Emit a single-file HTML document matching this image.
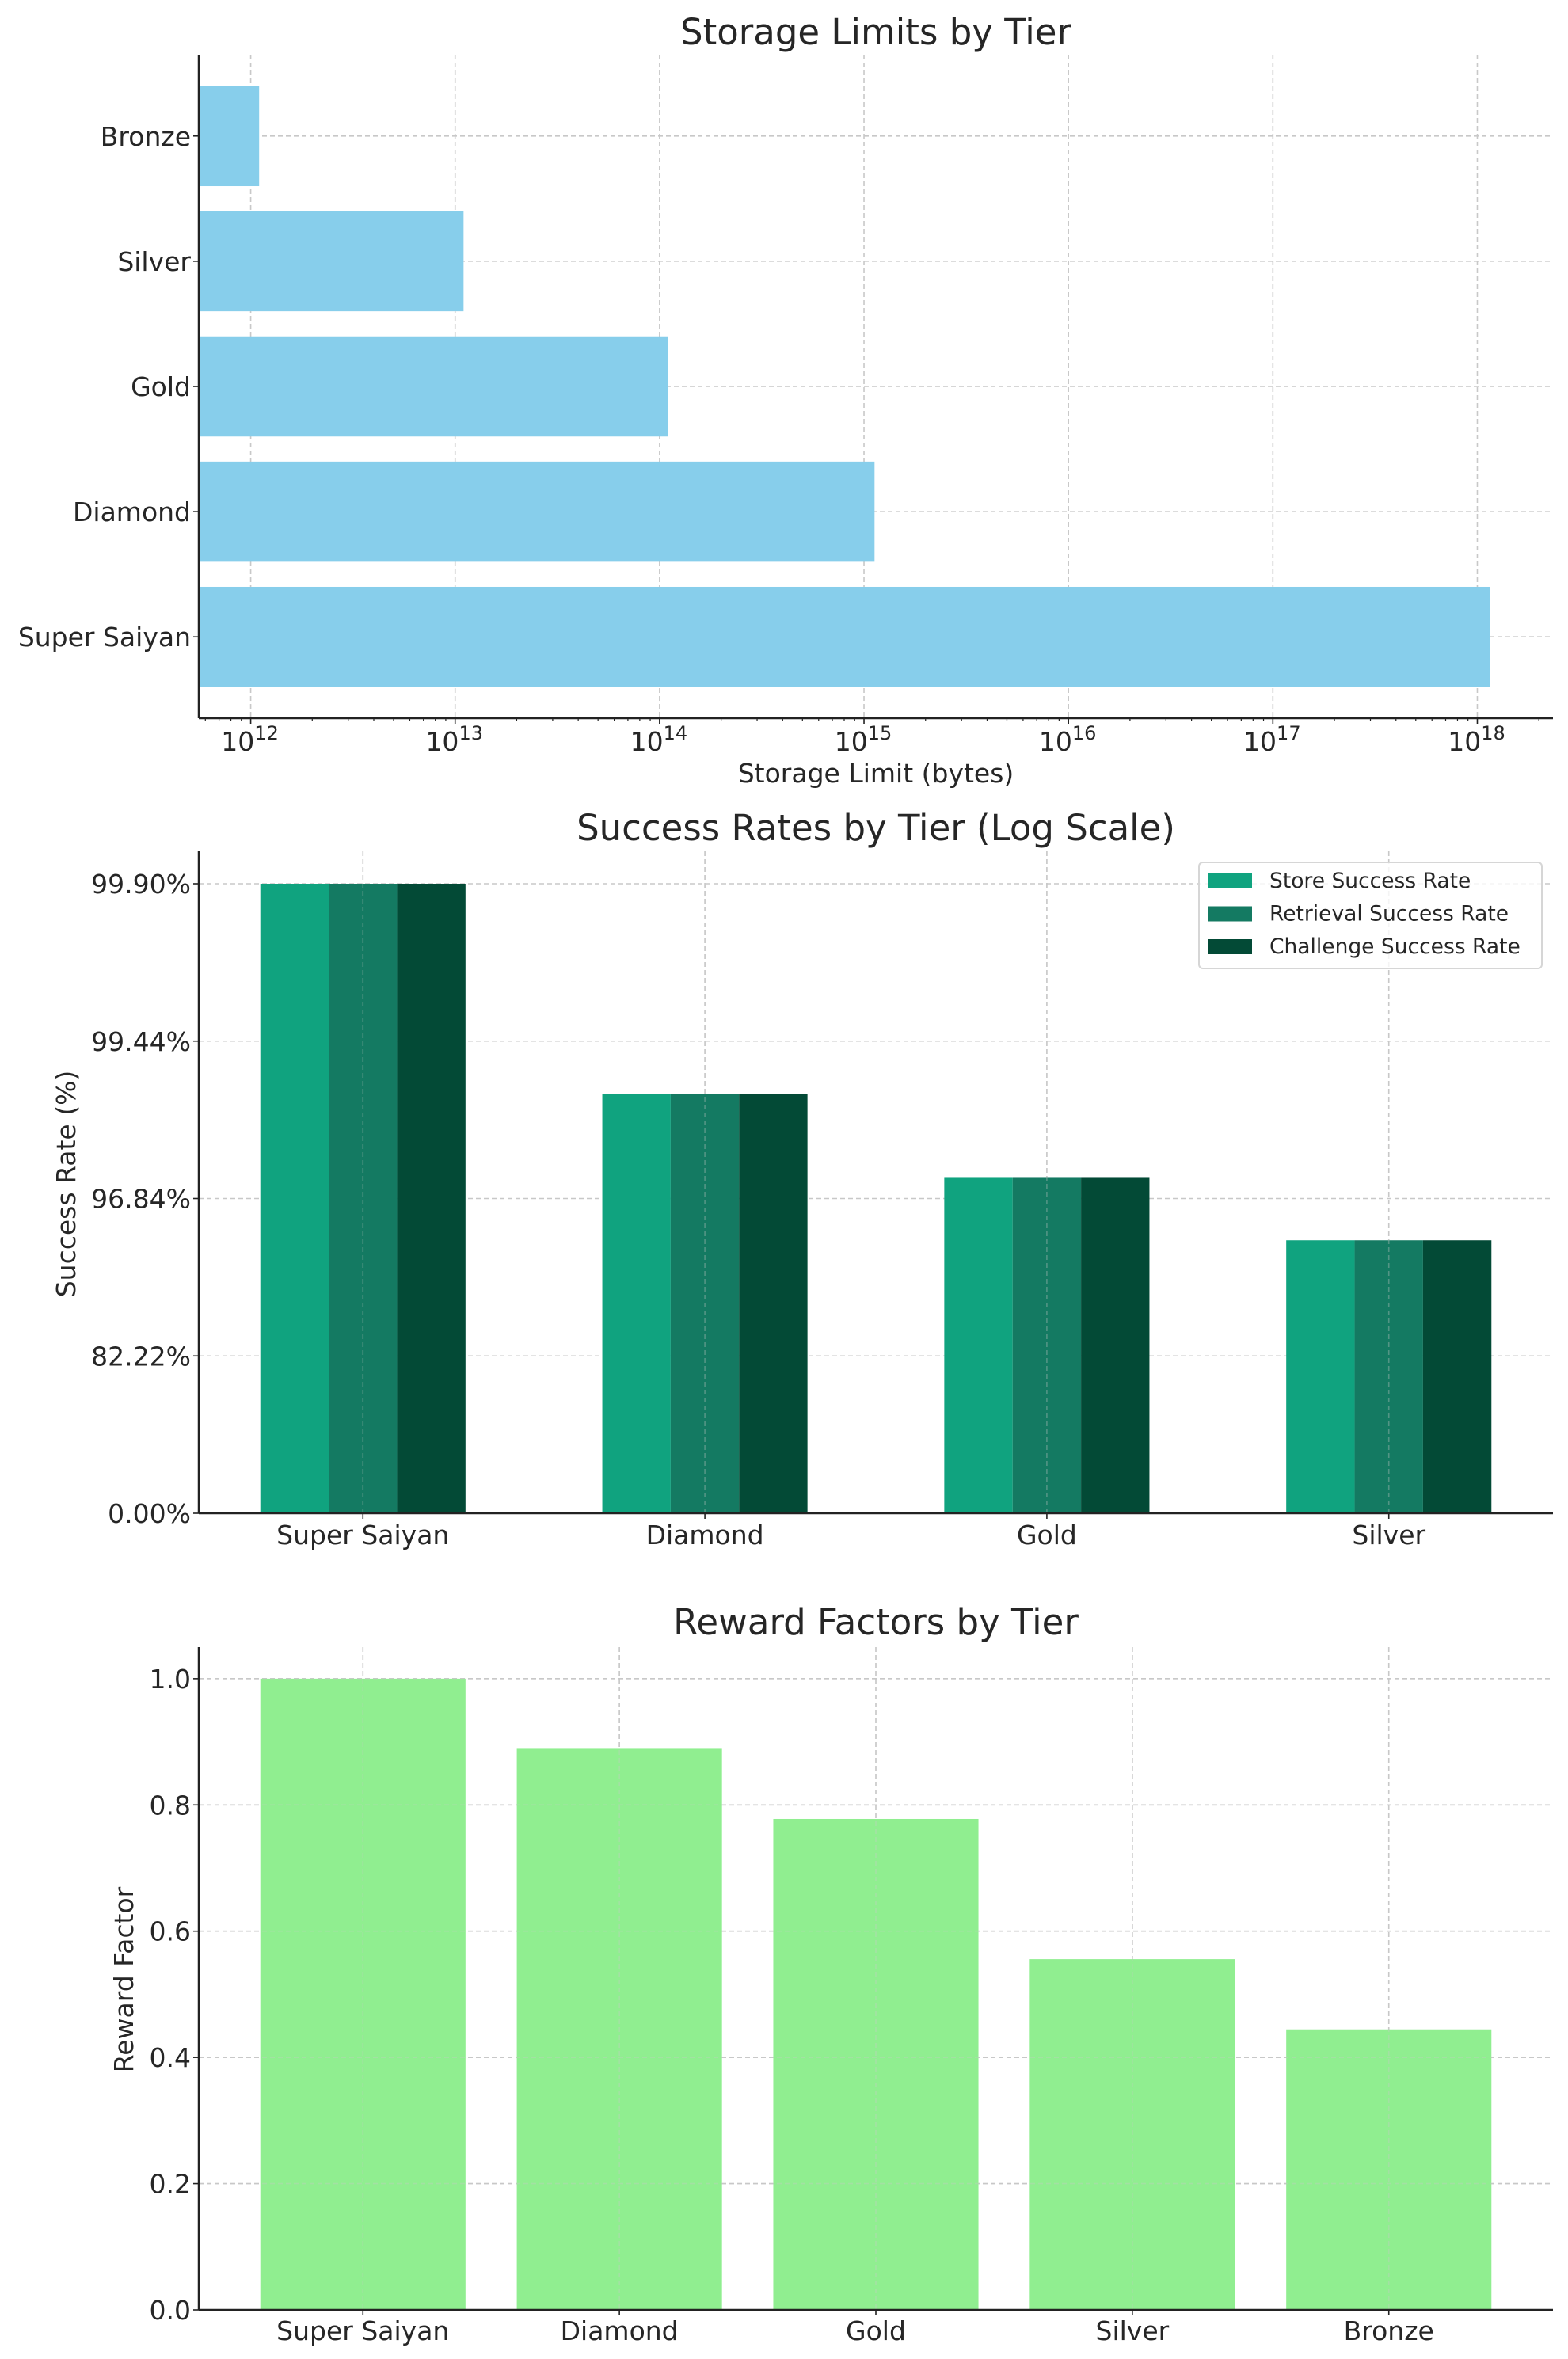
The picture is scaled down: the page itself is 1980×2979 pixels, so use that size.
<!DOCTYPE html>
<html><head><meta charset="utf-8"><style>
html,body{margin:0;padding:0;background:#fff;}
svg{display:block;font-family:"DejaVu Sans","Liberation Sans",sans-serif;}
</style></head><body>
<svg id="fig" width="1980" height="2979" viewBox="0 0 1980 2979" xmlns="http://www.w3.org/2000/svg"></svg>
<script>
// ---------- Chart 1 data ----------
const storageTiers = ["Super Saiyan", "Diamond", "Gold", "Silver", "Bronze"];
const storageBytes = [1.1529e18, 1.1259e15, 1.0995e14, 1.0995e13, 1.0995e12];
const storageTickExps = [12, 13, 14, 15, 16, 17, 18];
// ---------- Chart 2 data ----------
const successTiers = ["Super Saiyan", "Diamond", "Gold", "Silver"];
const storeRates = [99.9, 99.0, 97.5, 95.0];
const retrievalRates = [99.9, 99.0, 97.5, 95.0];
const challengeRates = [99.9, 99.0, 97.5, 95.0];
const successSeriesNames = ["Store Success Rate", "Retrieval Success Rate", "Challenge Success Rate"];
const successTickLabels = ["0.00%", "82.22%", "96.84%", "99.44%", "99.90%"];
// ---------- Chart 3 data ----------
const rewardTiers = ["Super Saiyan", "Diamond", "Gold", "Silver", "Bronze"];
const rewardValues = [1.0, 0.8889, 0.7778, 0.5556, 0.4444];
const rewardTicks = [0.0, 0.2, 0.4, 0.6, 0.8, 1.0];

const NS = "http://www.w3.org/2000/svg";
const svg = document.getElementById("fig");
const TXT = "#262626";
const GRID = "#c8c8c8";
const FS = 33, TFS = 45;
function mk(tag, attrs, parent) {
  const e = document.createElementNS(NS, tag);
  for (const k in attrs) e.setAttribute(k, attrs[k]);
  (parent || svg).appendChild(e);
  return e;
}
function txt(s, x, y, size, anchor, parent, extra) {
  const t = mk("text", Object.assign({x: x, y: y, "font-size": size, "text-anchor": anchor || "middle", fill: TXT}, extra || {}), parent);
  t.textContent = s;
  return t;
}
function gridLine(x1, y1, x2, y2, g) {
  return mk("line", {x1: x1, y1: y1, x2: x2, y2: y2, stroke: GRID, "stroke-width": 1.6, "stroke-dasharray": "6,4"}, g);
}
const L = 251, R = 1961;

// ================= Chart 1 =================
(function () {
  const g = mk("g", {});
  
  
  const top = 69, bot = 907;
  const xmin = 11.746, xmax = 18.37;
  const xs = v => L + (Math.log10(v) - xmin) / (xmax - xmin) * (R - L);
  const ymin = -0.65, ymax = 4.65;
  const ys = i => bot - (i - ymin) / (ymax - ymin) * (bot - top);
  const t = txt("Storage Limits by Tier", 1106, 56, TFS, "middle", g);
  
  
  storageTickExps.forEach(e => { const x = xs(Math.pow(10, e)); gridLine(x, top, x, bot, g); });
  storageTiers.forEach((c, i) => { const y = ys(i); gridLine(L, y, R, y, g); });
  storageTiers.forEach((c, i) => {
    const b = mk("rect", {x: L, y: ys(i) - (ys(0) - ys(0.4)), width: xs(storageBytes[i]) - L, height: 2 * (ys(0) - ys(0.4)), fill: "#87ceeb"}, g);
    
    
  });
  mk("line", {x1: L, y1: top, x2: L, y2: bot, stroke: "#222", "stroke-width": 2.5}, g);
  mk("line", {x1: L, y1: bot, x2: R, y2: bot, stroke: "#222", "stroke-width": 2.5}, g);
  storageTiers.forEach((c, i) => {
    const y = ys(i);
    mk("line", {x1: L - 7, y1: y, x2: L, y2: y, stroke: "#222", "stroke-width": 1.6}, g);
    const l = txt(c, 241, y + 12, FS, "end", g);
    
    
  });
  for (let e = 11; e <= 18; e++) {
    for (let m = 2; m <= 9; m++) {
      const v = m * Math.pow(10, e);
      const lv = Math.log10(v);
      if (lv < xmin || lv > xmax) continue;
      const x = xs(v);
      mk("line", {x1: x, y1: bot, x2: x, y2: bot + 4, stroke: "#222", "stroke-width": 1.2}, g);
    }
  }
  storageTickExps.forEach(e => {
    const x = xs(Math.pow(10, e));
    mk("line", {x1: x, y1: bot, x2: x, y2: bot + 7, stroke: "#222", "stroke-width": 1.6}, g);
    const tx = mk("text", {x: x - 1, y: 948, "font-size": FS, "text-anchor": "middle", fill: TXT}, g);
    
    
    const a = mk("tspan", {}, tx); a.textContent = "10";
    const b = mk("tspan", {dy: -14, "font-size": 24}, tx); b.textContent = String(e);
  });
  const xl = txt("Storage Limit (bytes)", 1106, 988, FS, "middle", g);
  
  
})();

// ================= Chart 2 =================
(function () {
  const g = mk("g", {});
  
  
  const top = 1075, bot = 1911;
  const tf = p => -Math.log10(1 - p / 100);
  const ymax = 3 * (bot - top) / (bot - 1116);
  const ys = p => bot - tf(p) / ymax * (bot - top);
  const yt = k => bot - k / ymax * (bot - top);
  const xmin = -0.48, xmax = 3.48;
  const xs = v => L + (v - xmin) / (xmax - xmin) * (R - L);
  const t = txt("Success Rates by Tier (Log Scale)", 1106, 1061, TFS, "middle", g);
  
  
  successTiers.forEach((c, i) => gridLine(xs(i), top, xs(i), bot, g));
  successTickLabels.forEach((s, k) => gridLine(L, yt(k * 0.75), R, yt(k * 0.75), g));
  const series = [storeRates, retrievalRates, challengeRates];
  const colors = ["#10a37f", "#147a62", "#034a36"];
  const w = 0.2;
  series.forEach((vals, s) => {
    successTiers.forEach((c, i) => {
      const x0 = xs(i + (s - 1) * w - w / 2), x1 = xs(i + (s - 1) * w + w / 2);
      const b = mk("rect", {x: x0, y: ys(vals[i]), width: x1 - x0, height: bot - ys(vals[i]), fill: colors[s]}, g);
      
      
    });
  });
  successTiers.forEach((c, i) => {
    const gl = gridLine(xs(i), top, xs(i), bot, g);
    gl.setAttribute("stroke-opacity", "0.35");
  });
  mk("line", {x1: L, y1: top, x2: L, y2: bot, stroke: "#222", "stroke-width": 2.5}, g);
  mk("line", {x1: L, y1: bot, x2: R, y2: bot, stroke: "#222", "stroke-width": 2.5}, g);
  successTickLabels.forEach((s, k) => {
    const y = yt(k * 0.75);
    mk("line", {x1: L - 7, y1: y, x2: L, y2: y, stroke: "#222", "stroke-width": 1.6}, g);
    const l = txt(s, 241, y + 12, FS, "end", g);
    
    
  });
  successTiers.forEach((c, i) => {
    mk("line", {x1: xs(i), y1: bot, x2: xs(i), y2: bot + 7, stroke: "#222", "stroke-width": 1.6}, g);
    const l = txt(c, xs(i), 1950, FS, "middle", g);
    
    
  });
  const yl = txt("Success Rate (%)", 0, 0, FS, "middle", g, {transform: "translate(95,1495) rotate(-90)"});
  
  
  const lg = mk("g", {}, g);
  
  
  mk("rect", {x: 1514, y: 1089, width: 433, height: 134, rx: 5, fill: "#fff", "fill-opacity": 0.8, stroke: "#d6d6d6", "stroke-width": 2}, lg);
  successSeriesNames.forEach((n, s) => {
    const y = 1103 + s * 41.5;
    mk("rect", {x: 1525, y: y, width: 56, height: 19, fill: colors[s]}, lg);
    const l = txt(n, 1603, y + 18, 26.5, "start", lg);
    
    
  });
})();

// ================= Chart 3 =================
(function () {
  const g = mk("g", {});
  
  
  const top = 2080, bot = 2917;
  const ymax = 1.05;
  const ys = v => bot - v / ymax * (bot - top);
  const xmin = -0.64, xmax = 4.64;
  const xs = v => L + (v - xmin) / (xmax - xmin) * (R - L);
  const t = txt("Reward Factors by Tier", 1106, 2064, TFS, "middle", g);
  
  
  rewardTiers.forEach((c, i) => gridLine(xs(i), top, xs(i), bot, g));
  rewardTicks.forEach(v => gridLine(L, ys(v), R, ys(v), g));
  rewardTiers.forEach((c, i) => {
    const x0 = xs(i - 0.4), x1 = xs(i + 0.4);
    const b = mk("rect", {x: x0, y: ys(rewardValues[i]), width: x1 - x0, height: bot - ys(rewardValues[i]), fill: "#90ee90"}, g);
    
    
  });
  rewardTiers.forEach((c, i) => {
    const gl = gridLine(xs(i), top, xs(i), bot, g);
    gl.setAttribute("stroke-opacity", "0.35");
  });
  rewardTicks.forEach(v => {
    const gl = gridLine(L, ys(v), R, ys(v), g);
    gl.setAttribute("stroke-opacity", "0.35");
  });
  mk("line", {x1: L, y1: top, x2: L, y2: bot, stroke: "#222", "stroke-width": 2.5}, g);
  mk("line", {x1: L, y1: bot, x2: R, y2: bot, stroke: "#222", "stroke-width": 2.5}, g);
  rewardTicks.forEach(v => {
    const y = ys(v);
    mk("line", {x1: L - 7, y1: y, x2: L, y2: y, stroke: "#222", "stroke-width": 1.6}, g);
    const l = txt(v.toFixed(1), 241, y + 12, FS, "end", g);
    
    
  });
  rewardTiers.forEach((c, i) => {
    mk("line", {x1: xs(i), y1: bot, x2: xs(i), y2: bot + 7, stroke: "#222", "stroke-width": 1.6}, g);
    const l = txt(c, xs(i), 2955, FS, "middle", g);
    
    
  });
  const yl = txt("Reward Factor", 0, 0, FS, "middle", g, {transform: "translate(168,2500) rotate(-90)"});
  
  
})();
</script>
</body></html>
